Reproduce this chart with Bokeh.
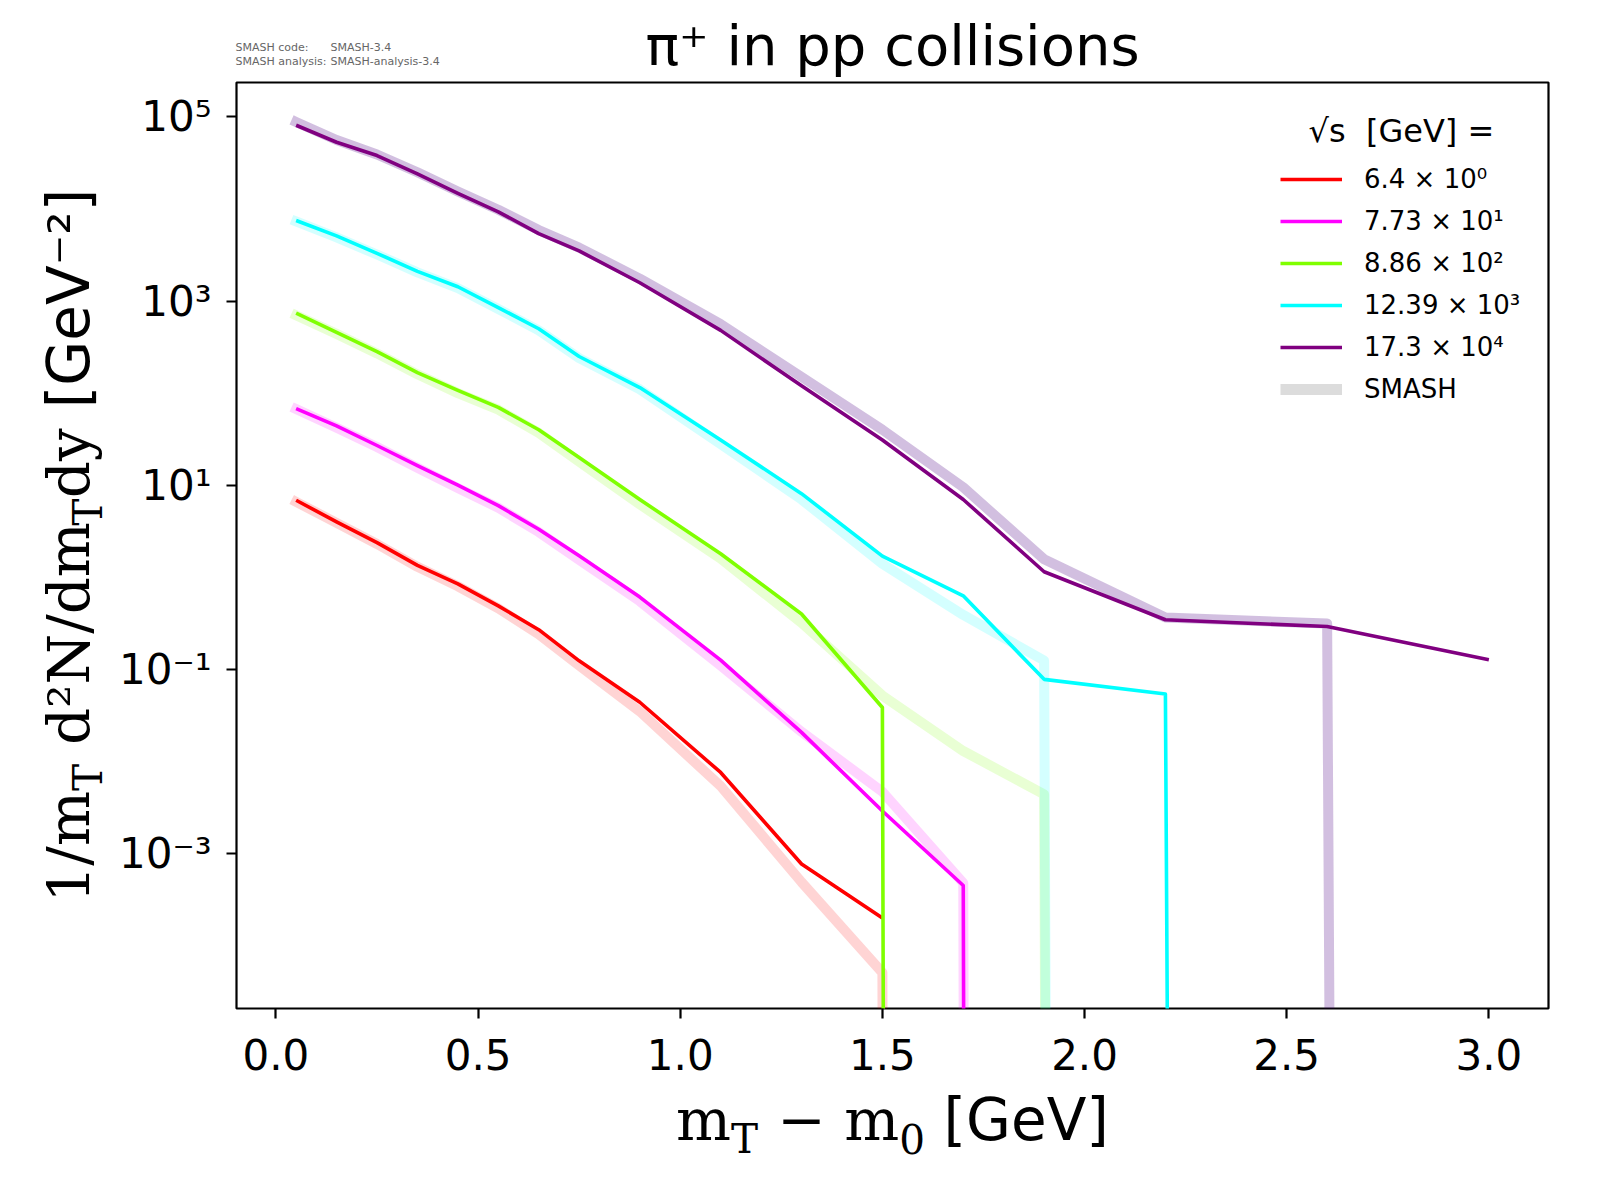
import numpy as np
from bokeh.plotting import figure
from bokeh.models import ColumnDataSource, Legend, LegendItem, Label, FixedTicker
from bokeh.layouts import column, row
from bokeh.embed import file_html
from bokeh.resources import INLINE

# ---------------- data ----------------
MT_BINS = [0.05, 0.15, 0.25, 0.35, 0.45, 0.55, 0.65, 0.75, 0.9, 1.1,
           1.3, 1.5, 1.7, 1.9, 2.2, 2.6, 3.0]

# experimental spectra (already scaled by 10^i)
EXP_6_4 = [6.87, 4.0, 2.38, 1.35, 0.85, 0.49, 0.27, 0.124, 0.044, 7.6e-3,
           7.7e-4, 2.0e-4]
EXP_7_73 = [68, 44, 27, 16.3, 10, 6.0, 3.33, 1.71, 0.61, 0.126,
            0.0207, 2.9e-3, 4.5e-4, 0.0]
EXP_8_86 = [738, 457, 282, 167, 107, 70, 40, 20, 7.0, 1.8,
            0.40, 0.0386, 0.0]
EXP_12_39 = [7.5e3, 5.1e3, 3.3e3, 2.1e3, 1.43e3, 850, 500, 250, 115, 31,
             8.1, 1.7, 0.63, 0.078, 0.054, 0.0]
EXP_17_3 = [8.1e4, 5.3e4, 3.8e4, 2.4e4, 1.48e4, 9.3e3, 5.4e3, 3.5e3, 1.58e3, 480,
            120, 31, 7.0, 1.15, 0.346, 0.292, 0.127]

# SMASH spectra
SMASH_6_4 = [6.6, 3.9, 2.3, 1.3, 0.8, 0.46, 0.24, 0.11, 0.035, 5.4e-3,
             4.9e-4, 5.1e-5, 0.0]
SMASH_7_73 = [67, 42, 26, 15.5, 9.3, 5.7, 3.1, 1.55, 0.55, 0.11,
              0.021, 4.7e-3, 4.8e-4, 0.0]
SMASH_8_86 = [700, 440, 270, 160, 100, 66, 37, 18, 6.2, 1.6,
              0.32, 0.052, 0.013, 4.4e-3, 0.0]
SMASH_12_39 = [7.3e3, 4.9e3, 3.2e3, 2.05e3, 1.38e3, 820, 480, 240, 110, 28,
               7.0, 1.4, 0.39, 0.125, 0.0]
SMASH_17_3 = [8.8e4, 5.6e4, 3.9e4, 2.5e4, 1.55e4, 9.8e3, 5.9e3, 3.8e3, 1.75e3, 560,
              150, 40, 9.5, 1.57, 0.366, 0.315, 0.0]

SQRT_S_LABELS = ["6.4 × 10⁰", "7.73 × 10¹", "8.86 × 10²", "12.39 × 10³", "17.3 × 10⁴"]
SMASH_LABEL = "SMASH"
LEGEND_TITLE = "√s\u00a0\u00a0[GeV] ="
TITLE = "π⁺ in pp collisions"
CODE_KEYS = ["SMASH code:", "SMASH analysis:"]
CODE_VALUES = ["SMASH-3.4", "SMASH-analysis-3.4"]

X_TICKS = [0.0, 0.5, 1.0, 1.5, 2.0, 2.5, 3.0]
X_TICK_LABELS = ["0.0", "0.5", "1.0", "1.5", "2.0", "2.5", "3.0"]
Y_TICKS = [1e-3, 1e-1, 1e1, 1e3, 1e5]
Y_TICK_LABELS = ["10⁻³", "10⁻¹", "10¹", "10³", "10⁵"]

X_RANGE = (-0.0975, 3.1475)
Y_RANGE = (2.08e-5, 2.36e5)

# ---------------- styles / layout ----------------
EXP_SERIES = [EXP_6_4, EXP_7_73, EXP_8_86, EXP_12_39, EXP_17_3]
SMASH_SERIES = [SMASH_6_4, SMASH_7_73, SMASH_8_86, SMASH_12_39, SMASH_17_3]
LINE_COLORS = ["#ff0000", "#ff00ff", "#7fff00", "#00ffff", "#800080"]
BAND_COLORS = ["#ff0000", "#ff00ff", "#7fff00", "#00ffff", "#4b0082"]
BAND_ALPHAS = [0.17, 0.17, 0.17, 0.17, 0.25]

TOTAL_W, TOTAL_H = 1584, 1184
TOP_H = 81
LEFT_W = 115
P_BORDER_L, P_BORDER_R, P_BORDER_T, P_BORDER_B = 121, 36, 1, 79
FRAME_W, FRAME_H = 1312, 926
P_W = TOTAL_W - LEFT_W
P_H = P_BORDER_T + FRAME_H + P_BORDER_B
BOT_H = TOTAL_H - TOP_H - P_H
FRAME_CX = LEFT_W + P_BORDER_L + FRAME_W / 2          # canvas x of frame centre
BASE_FIX = 0.37   # em offset compensating the alphabetic-baseline placement of labels
Y_FLOOR = 1e-300  # non-positive values drawn far below the frame, as a log axis clips them


def log_safe(vals):
    arr = np.asarray(vals, dtype=float)
    return np.where(arr > 0, arr, Y_FLOOR)


def blank_fig(w, h):
    f = figure(width=w, height=h, x_range=(0, 1), y_range=(0, 1),
               x_axis_location=None, y_axis_location=None,
               output_backend="svg", toolbar_location=None,
               min_border=0, min_border_left=0, min_border_right=0,
               min_border_top=0, min_border_bottom=0)
    f.outline_line_color = None
    f.background_fill_color = "white"
    f.border_fill_color = "white"
    f.grid.visible = False
    return f


def text_label(fig, x, y, text, font, size, color="black", align="left", angle=0):
    fix = BASE_FIX * size
    if angle:
        x, y = x - fix, y
    else:
        y = y + fix
    fig.add_layout(Label(x=x, y=y, x_units="screen", y_units="screen", text=text,
                         angle=angle, angle_units="deg",
                         text_font=font, text_font_size=f"{size:.1f}px", text_color=color,
                         text_align=align, text_baseline="alphabetic"))


# ---------------- main plot ----------------
p = figure(width=P_W, height=P_H, x_range=X_RANGE, y_range=Y_RANGE,
           y_axis_type="log", output_backend="svg", toolbar_location=None,
           min_border_left=P_BORDER_L, min_border_right=P_BORDER_R,
           min_border_top=P_BORDER_T, min_border_bottom=P_BORDER_B)
p.background_fill_color = "white"
p.border_fill_color = "white"
p.grid.visible = False
p.outline_line_color = "black"
p.outline_line_width = 2.2
p.outline_line_alpha = 1.0

for ax in (p.xaxis, p.yaxis):
    ax.axis_line_color = None
    ax.major_tick_line_color = "black"
    ax.major_tick_line_width = 2.2
    ax.major_tick_out = 10
    ax.major_tick_in = 0
    ax.minor_tick_line_color = None
    ax.major_label_text_font = "DejaVu Sans"
    ax.major_label_text_font_size = "42px"
    ax.major_label_text_color = "black"

p.xaxis.ticker = FixedTicker(ticks=X_TICKS)
p.xaxis.major_label_overrides = dict(zip(X_TICKS, X_TICK_LABELS))
p.xaxis.major_label_standoff = 20
p.yaxis.ticker = FixedTicker(ticks=Y_TICKS)
p.yaxis.major_label_overrides = dict(zip(Y_TICKS, Y_TICK_LABELS))
p.yaxis.major_label_standoff = 15

for vals, color, alpha in zip(SMASH_SERIES, BAND_COLORS, BAND_ALPHAS):
    src = ColumnDataSource(dict(x=MT_BINS[:len(vals)], y=log_safe(vals)))
    p.line("x", "y", source=src, line_color=color, line_alpha=alpha,
           line_width=10, line_join="round", line_cap="square")

exp_renderers = []
for vals, color in zip(EXP_SERIES, LINE_COLORS):
    src = ColumnDataSource(dict(x=MT_BINS[:len(vals)], y=log_safe(vals)))
    r = p.line("x", "y", source=src, line_color=color, line_width=3.6,
               line_join="round")
    exp_renderers.append(r)

smash_proxy = p.line(x=[np.nan], y=[np.nan], line_color="#dcdcdc", line_width=11)

items = [LegendItem(label=lab, renderers=[r]) for lab, r in zip(SQRT_S_LABELS, exp_renderers)]
items.append(LegendItem(label=SMASH_LABEL, renderers=[smash_proxy]))
legend = Legend(items=items, location=(1044, 604),
                label_text_font="DejaVu Sans", label_text_font_size="26px",
                label_text_color="black",
                glyph_width=62, glyph_height=28, label_height=28,
                label_standoff=22, spacing=12, padding=0, margin=0,
                border_line_color=None, background_fill_alpha=0)
p.add_layout(legend)

text_label(p, 1072, 866, LEGEND_TITLE, "DejaVu Sans", 32)

# ---------------- top strip: version note + title ----------------
top = blank_fig(TOTAL_W, TOP_H)
for i, (k, v) in enumerate(zip(CODE_KEYS, CODE_VALUES)):
    yy = 30 - 14 * i
    text_label(top, 235, yy, k, "DejaVu Sans", 11, color="#666666")
    text_label(top, 330, yy, v, "DejaVu Sans", 11, color="#666666")
text_label(top, FRAME_CX, 15, TITLE, "DejaVu Sans", 56, align="center")

# ---------------- axis labels built from runs (serif math + sans units) ----------------
SERIF = "DejaVu Serif"
SANS = "DejaVu Sans"
CHAR_W = {
    SERIF: {"1": 0.636, "/": 0.337, "m": 0.948, "T": 0.682, "d": 0.640, "²": 0.401,
            "N": 0.812, "y": 0.592, " ": 0.318, "−": 0.838, "0": 0.636},
    SANS: {"[": 0.390, "G": 0.775, "e": 0.615, "V": 0.684, "]": 0.390, "⁻": 0.535,
           "²": 0.401, " ": 0.318},
}
FS = 58


def run_w(text, font, scale):
    return sum(CHAR_W[font].get(c, 0.6) for c in text) * scale * FS


def place_runs(fig, runs, vertical, base, center):
    total = sum(run_w(t, f, s) for t, f, s, _ in runs)
    pos = center - total / 2
    for text, font, scale, shift in runs:
        w = run_w(text, font, scale)
        stripped = text.lstrip(" ")
        lead = run_w(text[:len(text) - len(stripped)], font, scale)
        size = FS * scale
        if vertical:
            text_label(fig, base - shift * FS, pos + lead, stripped, font, size, angle=90)
        else:
            text_label(fig, pos + lead, base + shift * FS, stripped, font, size)
        pos += w


Y_LABEL_RUNS = [("1/m", SERIF, 1.0, 0), ("T", SERIF, 0.7, -0.22), (" d²N/dm", SERIF, 1.0, 0),
                ("T", SERIF, 0.7, -0.22), ("dy", SERIF, 1.0, 0), (" [GeV⁻²]", SANS, 1.0, 0)]
X_LABEL_RUNS = [("m", SERIF, 1.0, 0), ("T", SERIF, 0.7, -0.22), (" − m", SERIF, 1.0, 0),
                ("0", SERIF, 0.7, -0.22), (" [GeV]", SANS, 1.0, 0)]

# the left strip's frame is aligned with the main frame by the row layout
left = blank_fig(LEFT_W, P_H)
place_runs(left, Y_LABEL_RUNS, True, 90, FRAME_H / 2)

bottom = blank_fig(TOTAL_W, BOT_H)
place_runs(bottom, X_LABEL_RUNS, False, 43, FRAME_CX)

layout = column(top, row(left, p, spacing=0), bottom, spacing=0)

open("out.html", "w").write(file_html(layout, INLINE))
